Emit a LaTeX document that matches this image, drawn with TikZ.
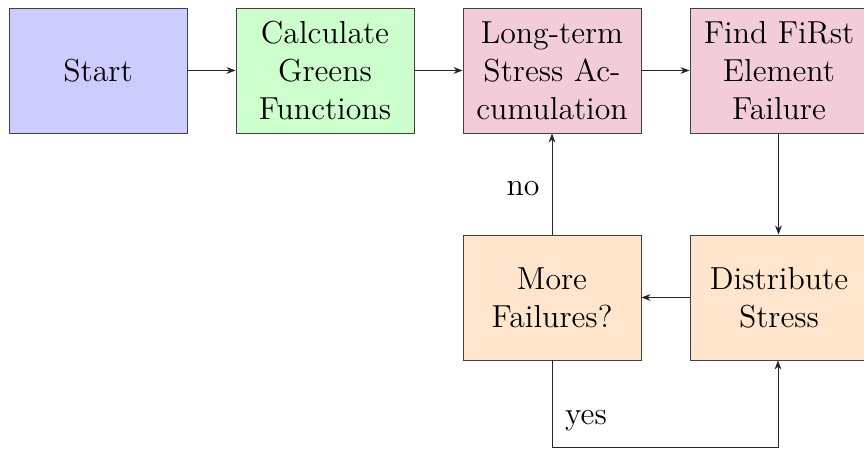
\documentclass[tikz,border=0pt]{standalone}
\usetikzlibrary{arrows.meta}
\begin{document}
\begin{tikzpicture}[x=0.44pt,y=-0.44pt,
  box/.style={draw=black!75, line width=0.4pt, minimum width=178*0.44pt, minimum height=125*0.44pt, inner sep=0pt, align=center, font=\fontsize{14}{16.8}\selectfont},
  conn/.style={draw=black!85, line width=0.4pt, -{Stealth[length=4pt,width=3pt]}},
  lab/.style={font=\fontsize{14}{16.8}\selectfont}]
\useasboundingbox (0,0) rectangle (864,454);
\node[box, fill=blue!20] (start) at (98,70.5) {Start};
\node[box, fill=green!20] (green) at (325,70.5) {Calculate\\Greens\\Functions};
\node[box, fill=purple!20] (accum) at (552,70.5) {Long-term\\Stress Ac-\\cumulation};
\node[box, fill=purple!20] (first) at (779,70.5) {Find FiRst\\Element\\Failure};
\node[box, fill=orange!20] (more) at (552,297.5) {More\\Failures?};
\node[box, fill=orange!20] (dist) at (779,297.5) {Distribute\\Stress};
\coordinate (bl) at (552,447);
\coordinate (br) at (778,447);
\draw[conn] (start) -- (green);
\draw[conn] (green) -- (accum);
\draw[conn] (accum) -- (first);
\draw[conn] ([xshift=-0.5*0.44pt]first.south) -- ([xshift=-0.5*0.44pt]dist.north);
\draw[conn] (dist) -- (more);
\draw[conn] (more) -- node[lab, left, pos=0.45, xshift=-2pt] (no) {no} (accum);
\draw[conn] (more.south) -- (bl) -- (br) -- ([xshift=-1*0.44pt]dist.south);
\node[lab, anchor=west] (yes) at (557,421) {yes};
\end{tikzpicture}
\end{document}
